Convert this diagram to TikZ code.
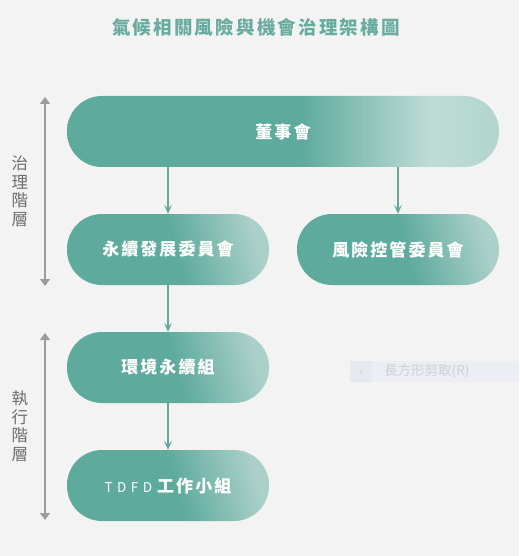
\documentclass[tikz,border=0pt]{standalone}
\usepackage{fontspec}
\usetikzlibrary{arrows.meta}
\newfontfamily\cjk[LetterSpace=12]{Noto Sans CJK TC}
\newfontfamily\cjkt[LetterSpace=12]{Noto Sans CJK TC}
\newfontfamily\cjkw[LetterSpace=33]{Noto Sans CJK TC}
\newfontfamily\cjkn{Noto Sans CJK TC}
\definecolor{bg}{HTML}{F3F3F3}
\definecolor{tA}{HTML}{5EAA9C}
\definecolor{tL}{HTML}{BEDCD6}
\definecolor{tM}{HTML}{B3D5CE}
\definecolor{tS}{HTML}{AAD0C9}
\definecolor{titlec}{HTML}{67AC9E}
\definecolor{arrc}{HTML}{62A99B}
\definecolor{grayarr}{HTML}{9C9C9C}
\definecolor{sidec}{HTML}{6E6E6E}
\pgfdeclarehorizontalshading{boardshade}{100bp}{color(0bp)=(tA); color(25bp)=(tA); color(52bp)=(tA); color(67bp)=(tL); color(75bp)=(tM); color(100bp)=(tM)}
\pgfdeclarehorizontalshading{smallshade}{100bp}{color(0bp)=(tA); color(25bp)=(tA); color(52bp)=(tA); color(75bp)=(tS); color(100bp)=(tS)}
\tikzset{
  pill/.style={rectangle, rounded corners=35pt, minimum height=71pt, inner sep=0pt,
    text=white, font=\cjk\bfseries\fontsize{17}{20}\selectfont},
  bigpill/.style={pill, minimum width=432pt, shade, shading=boardshade, shading angle=0},
  smallpill/.style={pill, minimum width=202pt, shade, shading=smallshade, shading angle=15},
  tarrow/.style={draw=arrc, line width=1.1pt, -{Stealth[length=9pt,width=8pt,inset=4pt]}},
  garrow/.style={draw=grayarr, line width=2.4pt, {Triangle[length=7pt,width=10pt]}-{Triangle[length=7pt,width=10pt]}},
  sidelabel/.style={text=sidec, align=center, font=\cjkn\fontsize{16.5}{18.5}\selectfont},
}
\begin{document}
\begin{tikzpicture}[x=1pt,y=1pt]
\fill[bg] (0,0) rectangle (519,-556);
\useasboundingbox (0,0) rectangle (519,-556);
\node[text=titlec, font=\cjkt\bfseries\fontsize{18.5}{21}\selectfont] (title) at (256,-27) {氣候相關風險與機會治理架構圖};

\node[bigpill] (board) at (283,-131.5) {董事會};
\node[smallpill] (sus) at (168,-249.5) {永續發展委員會};
\node[smallpill] (risk) at (398,-249.5) {風險控管委員會};
\node[smallpill] (env) at (168,-367.5) {環境永續組};
\node[smallpill] (tdfd) at (168,-485.5) {{\cjkw\mdseries\fontsize{13.5}{16}\selectfont TDFD}\hspace{5pt}工作小組};

\draw[tarrow] (sus.north |- board.south) -- (sus.north);
\draw[tarrow] (risk.north |- board.south) -- (risk.north);
\draw[tarrow] (sus.south) -- (env.north);
\draw[tarrow] (env.south) -- (tdfd.north);

\coordinate (g1a) at (45,-97);
\coordinate (g1b) at (45,-286);
\coordinate (g2a) at (45,-333);
\coordinate (g2b) at (45,-520);
\draw[garrow] (g1a) -- (g1b);
\draw[garrow] (g2a) -- (g2b);
\node[sidelabel] (gov) at (20,-191) {治\\理\\階\\層};
\node[sidelabel] (exe) at (20,-426) {執\\行\\階\\層};

% faint menu artifact
\fill[fill={rgb,255:red,236;green,238;blue,243}] (350,-361) rectangle (519,-382);
\fill[fill={rgb,255:red,230;green,233;blue,240}] (350,-361) rectangle (372,-382);
\fill[fill={rgb,255:red,214;green,218;blue,226}] (361,-371.5) circle (1.8);
\node[anchor=west, text={rgb,255:red,204;green,208;blue,214}, font=\cjkn\fontsize{13.5}{16}\selectfont, inner sep=0pt] (menu) at (384,-371.5) {長方形剪取(R)};
\end{tikzpicture}
\end{document}
